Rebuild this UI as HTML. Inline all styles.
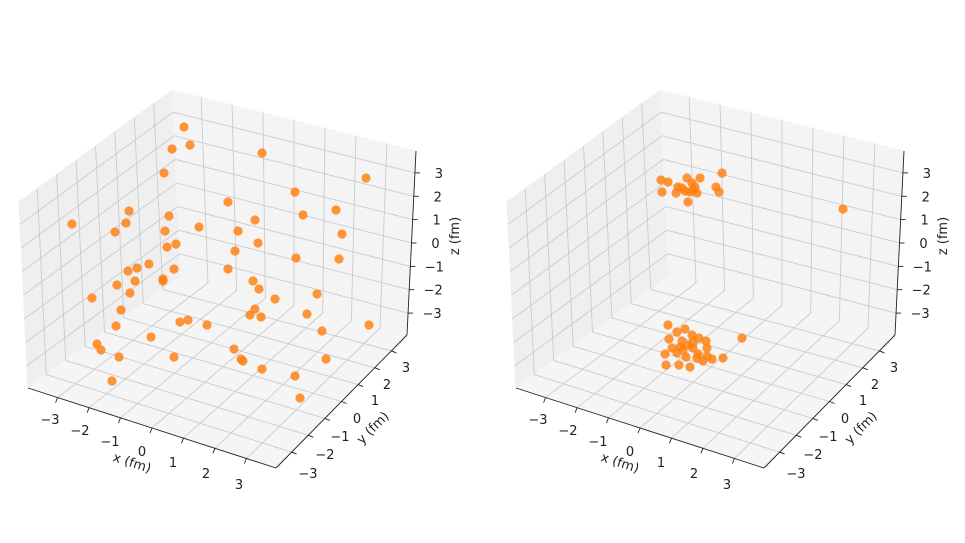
<!DOCTYPE html>
<html><head><meta charset="utf-8"><style>
body{margin:0;background:#fff;}
svg{display:block;font-family:"DejaVu Sans","Liberation Sans",sans-serif;}
</style></head><body>
<svg id="s" width="965" height="543" xmlns="http://www.w3.org/2000/svg"></svg>
<script>
const s=document.getElementById('s');let h='';
const L=3.94;const f=t=>(t+L)/(2*L);
function lerp(a,b,t){return [a[0]+(b[0]-a[0])*t,a[1]+(b[1]-a[1])*t];}
function panel(ox){
 const B=[28+ox,388],D=[276+ox,468],A=[181+ox,276],C=[407+ox,335];
 const Bt=[19+ox,202],At=[172+ox,90],Ct=[416+ox,151];
 const fl=(u,v)=>lerp(lerp(B,D,u),lerp(A,C,u),v);
 const lw=(v,z)=>lerp(lerp(B,A,v),lerp(Bt,At,v),z);
 const bw=(u,z)=>lerp(lerp(A,C,u),lerp(At,Ct,u),z);
 const P=a=>a.map(p=>p.join(',')).join(' ');
 h+=`<polygon points="${P([B,A,At,Bt])}" fill="#efefef" stroke="#efefef"/>`;
 h+=`<polygon points="${P([A,C,Ct,At])}" fill="#f4f4f4" stroke="#f4f4f4"/>`;
 h+=`<polygon points="${P([B,D,C,A])}" fill="#f5f5f5" stroke="#f5f5f5"/>`;
 const ln=(a,b,c,w)=>h+=`<line x1="${a[0].toFixed(1)}" y1="${a[1].toFixed(1)}" x2="${b[0].toFixed(1)}" y2="${b[1].toFixed(1)}" stroke="${c}" stroke-width="${w}"/>`;
 const g='#cbcbcb';
 for(let t=-3;t<=3;t++){const q=f(t);
  ln(fl(q,0),fl(q,1),g,0.9);ln(fl(0,q),fl(1,q),g,0.9);
  ln(lw(q,0),lw(q,1),g,0.9);ln(lw(0,q),lw(1,q),g,0.9);
  ln(bw(q,0),bw(q,1),g,0.9);ln(bw(0,q),bw(1,q),g,0.9);
 }
 const k='#222';
 ln(B,D,k,0.9);ln(D,C,k,0.9);ln(C,Ct,k,0.9);
 for(let t=-3;t<=3;t++){const q=f(t);
  let p=fl(q,0);ln(p,[p[0]-2,p[1]+5],k,0.9);
  p=fl(1,q);ln(p,[p[0]+5,p[1]+2],k,0.9);
  p=lerp(C,Ct,q);ln(p,[p[0]+5,p[1]],k,0.9);
 }
 const tx=(x,y,t,extra)=>h+=`<text x="${x}" y="${y}" font-size="13" text-anchor="middle" fill="#222" ${extra||''}>${t}</text>`;
 const lab=['−3','−2','−1','0','1','2','3'];
 const xl=[[50,424],[80,435],[110,446],[142,456],[173,467],[206,478],[239,489]];
 const yl=[[308,478],[325,459],[340,441],[357,423],[375,405],[387,389],[406,372]];
 for(let i=0;i<7;i++){tx(xl[i][0]+ox,xl[i][1],lab[i]);tx(yl[i][0]+ox,yl[i][1],lab[i]);
  const zp=lerp(C,Ct,f(i-3));tx(zp[0]+24,zp[1]+5,lab[i]);}
 tx(132+ox,467,'x (fm)',`transform="rotate(18 ${132+ox} 463)"`);
 tx(373+ox,432,'y (fm)',`transform="rotate(-45 ${373+ox} 428)"`);
 tx(459+ox,244,'z (fm)',`transform="rotate(-90 ${455+ox} 240)"`);
}
panel(0);panel(488);
const p1=[[184,127],[190,145],[172,149],[262,153],[164,173],[366,178],[295,192],[228,202],[129,211],[336,210],[303,215],[169,216],[72,224],[126,223],[255,220],[115,232],[199,227],[238,231],[165,231],[342,234],[176,244],[258,243],[167,247],[235,251],[296,258],[339,259],[149,264],[137,268],[128,271],[174,269],[228,269],[163,279],[163,281],[135,281],[117,285],[253,281],[130,293],[259,289],[92,298],[275,299],[317,294],[121,310],[255,309],[250,315],[261,317],[307,314],[188,320],[180,322],[207,325],[369,325],[116,326],[322,331],[151,337],[97,344],[101,350],[119,357],[174,357],[234,349],[241,359],[243,361],[326,359],[262,369],[295,376],[112,381],[300,398]];
const p2=[[661,180],[668,182],[662,192],[676,193],[678,187],[687,178],[692,183],[700,178],[722,173],[695,187],[685,191],[690,192],[697,193],[716,187],[719,192],[688,202],[682,188],[693,190],[843,209],
[668,325],[677,332],[685,329],[669,339],[682,341],[692,335],[699,338],[706,341],[672,348],[680,347],[688,345],[693,348],[707,348],[665,354],[677,353],[686,357],[698,354],[707,356],[712,359],[703,361],[723,358],[666,365],[679,365],[690,367],[697,358],[683,350],[693,342],[742,338]];
for(const p of p1.concat(p2))h+=`<circle cx="${p[0]}" cy="${p[1]}" r="4.6" fill="#ff7f0e" fill-opacity="0.82"/>`;
s.innerHTML=h;
</script>
</body></html>
